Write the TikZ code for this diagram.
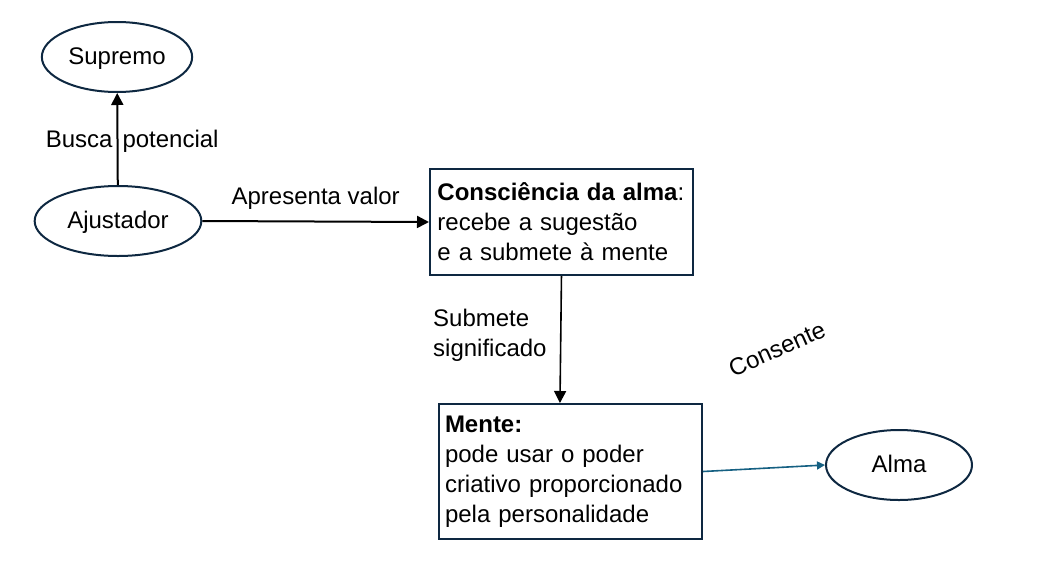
\documentclass[tikz,border=0pt]{standalone}
\usepackage{fontspec}
\setmainfont{Liberation Sans}
\usetikzlibrary{shapes.geometric, positioning, arrows.meta}

\definecolor{navy}{HTML}{0E2841}
\definecolor{linkblue}{HTML}{156082}

\begin{document}
\begin{tikzpicture}[x=0.75pt, y=-0.75pt, font=\fontsize{18}{22.5}\selectfont,
    oval/.style={ellipse, draw=navy, line width=1.5pt, minimum height=52.5pt, text height=11.5pt, text depth=0pt},
    card/.style={rectangle, draw=navy, line width=1.5pt, anchor=north west, align=left},
    >={Triangle[length=9pt, width=9pt]}]
    \useasboundingbox (0,0) rectangle (1048,575);

    \node[oval, minimum width=109.5pt] (supremo) at (117,57) {Supremo};
    \node[oval, minimum width=125pt] (ajustador) at (118,221) {Ajustador};
    \node[oval, minimum width=109.5pt] (alma) at (899,465) {Alma};
    \node[card, inner xsep=5.6pt, text width=186pt, minimum height=79.5pt] (consciencia) at (429,168)
        {\textbf{Consciência da alma}:\\recebe a sugestão\\e a submete à mente};
    \node[card, inner xsep=4.5pt, text width=188.25pt, minimum height=101.25pt] (mente) at (438,403)
        {\textbf{Mente:}\\pode usar o poder\\criativo proporcionado\\pela personalidade};
    \node[rotate=24] (consente) at (777,349) {Consente};

    \path[->, line width=1.5pt, every node/.style={inner sep=3pt, text height=13pt, text depth=4pt}]
    (ajustador) edge node[left, yshift=-1.5pt] {Busca} node[right, yshift=-1.5pt] {potencial} (supremo)
    (ajustador.east) edge node[above=5pt] {Apresenta valor} (consciencia.west);

    \path[->, line width=1.2pt]
    (consciencia.south) edge node[left=7pt, yshift=3pt, align=left, inner sep=3pt] {Submete\\significado}
        ([xshift=-7.9pt]mente.north);

    \path[->, >={Triangle[length=6pt, width=6pt]}]
    (mente.east) edge[linkblue, line width=1.2pt] (alma.west);
\end{tikzpicture}
\end{document}
